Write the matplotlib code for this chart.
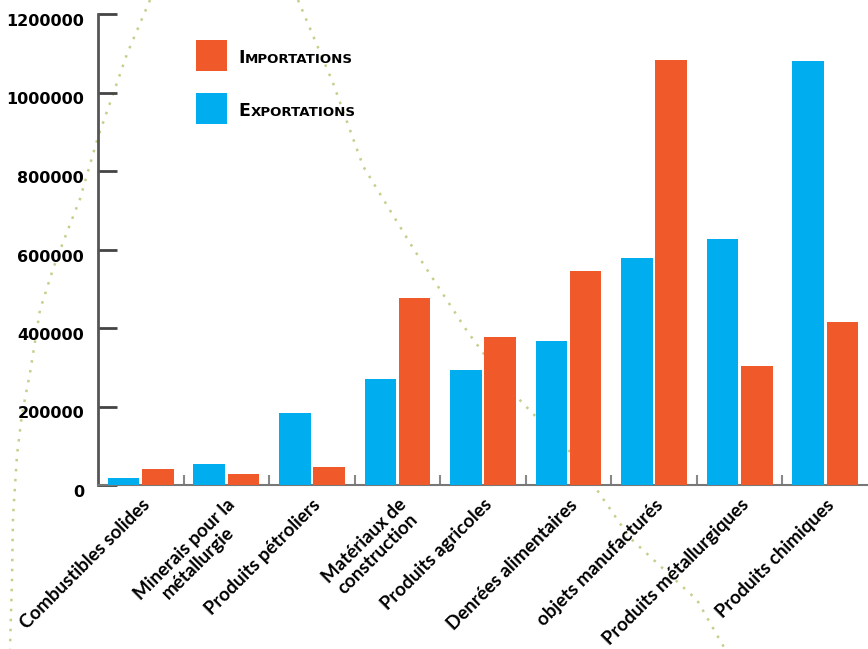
import matplotlib
matplotlib.use("Agg")
import matplotlib.pyplot as plt
import numpy as np
from matplotlib.lines import Line2D
from matplotlib.patches import Rectangle

# Données
categories = ['Combustibles solides', 'Minerais pour la\nmétallurgie', 'Produits pétroliers',
              'Matériaux de\nconstruction', 'Produits agricoles', 'Denrées alimentaires',
              'objets manufacturés', 'Produits métallurgiques', 'Produits chimiques']
exportations = [17000, 53500, 183000, 269000, 293000, 367000, 578000, 626000, 1080000]
importations = [40000, 27000, 46600, 477000, 376000, 545000, 1083000, 303000, 416000]
yticks = [0, 200000, 400000, 600000, 800000, 1000000, 1200000]

ORANGE = '#F0592A'
BLEU = '#00ADEF'
W, H = 868, 649

fig = plt.figure(figsize=(W / 100, H / 100), dpi=100)
fig.patch.set_facecolor('white')

# Lignes pointillées décoratives en arrière-plan (coordonnées pixels)
deco1 = [(150, 0), (127, 54), (110, 103), (98, 137), (80, 199), (67, 232), (53, 269),
         (40, 310), (30, 373), (22, 414), (17, 455), (13, 517), (12, 580), (10, 649)]
deco2 = [(298, 0), (333, 83), (363, 166), (413, 248), (467, 331), (513, 393),
         (573, 455), (630, 538), (697, 600), (725, 649)]
for pts in (deco1, deco2):
    xs = [p[0] / W for p in pts]
    ys = [1 - p[1] / H for p in pts]
    fig.add_artist(Line2D(xs, ys, transform=fig.transFigure, color='#c5cf8c',
                          linestyle=(0, (1, 3)), linewidth=1.8, zorder=0))

ax = fig.add_axes([98 / W, 1 - 485 / H, 1 - 98 / W, (485 - 14) / H])
ax.set_facecolor('none')

x = np.arange(len(categories))
ax.bar(x - 0.2, exportations, width=0.37, color=BLEU, zorder=3)
ax.bar(x + 0.2, importations, width=0.37, color=ORANGE, zorder=3)

ax.set_xlim(-0.5, len(categories) - 0.5)
ax.set_ylim(0, 1200000)

for s in ['top', 'right']:
    ax.spines[s].set_visible(False)
ax.spines['left'].set_color('#555555')
ax.spines['left'].set_linewidth(2)
ax.spines['bottom'].set_color('#777777')
ax.spines['bottom'].set_linewidth(1.5)

ax.set_yticks(yticks)
ax.set_yticklabels([str(v) for v in yticks], fontsize=11.5, fontweight='bold',
                   family='DejaVu Sans', va='top')
ax.tick_params(axis='y', direction='in', length=14, width=2, color='#444444', pad=10)

ax.set_xticks(x)
ax.set_xticklabels(categories, rotation=45, ha='right', va='top',
                   rotation_mode='anchor', fontsize=13.5, fontweight='bold',
                   family='Lato', multialignment='center', linespacing=1.1)
ax.tick_params(axis='x', which='major', length=0, pad=8)
ax.set_xticks(np.arange(0.5, len(categories) - 0.5, 1), minor=True)
ax.tick_params(axis='x', which='minor', direction='in', length=7, width=1.5,
               color='#888888')

# Légende manuelle (petites capitales)
legende = [('Importations', ORANGE, 40), ('Exportations', BLEU, 93)]
renderer = fig.canvas.get_renderer()
for label, couleur, ytop in legende:
    fig.add_artist(Rectangle((196 / W, 1 - (ytop + 31) / H), 31 / W, 31 / H,
                             transform=fig.transFigure, facecolor=couleur,
                             edgecolor='none'))
    base = 1 - (ytop + 23) / H
    t1 = fig.text(238 / W, base, label[0].upper(), fontsize=12.5,
                  fontweight='bold', va='baseline', family='DejaVu Sans')
    bb = t1.get_window_extent(renderer)
    fig.text(bb.x1 / W + 0.5 / W, base, label[1:].upper(), fontsize=9.6,
             fontweight='bold', va='baseline', family='DejaVu Sans')

fig.savefig('out.png', dpi=100)
